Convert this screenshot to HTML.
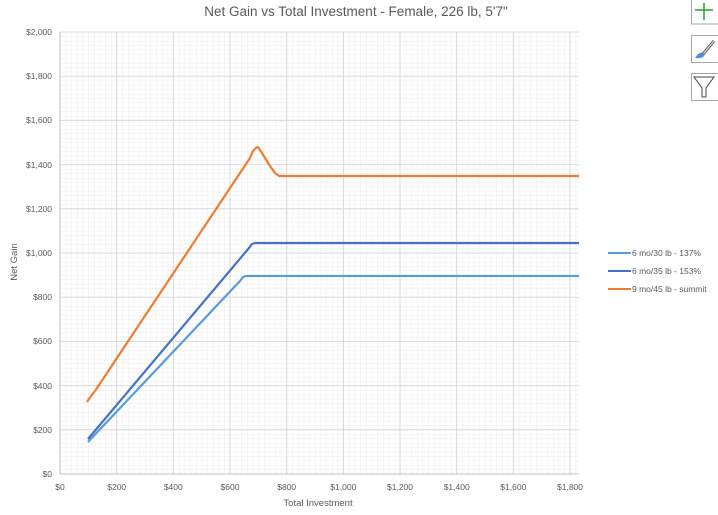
<!DOCTYPE html>
<html><head><meta charset="utf-8"><style>
body{margin:0;background:#fff;}
svg{display:block;font-family:"Liberation Sans",sans-serif;}
</style></head><body>
<svg width="718" height="515" viewBox="0 0 718 515" xmlns="http://www.w3.org/2000/svg">
<defs>
<pattern id="minor" x="60" y="32" width="5.667" height="4.42" patternUnits="userSpaceOnUse">
<path d="M0 0V4.42M0 0H5.667" stroke="#ececec" stroke-width="1" fill="none"/>
</pattern>
</defs>
<rect x="60" y="32" width="519" height="442" fill="url(#minor)"/>
<g stroke="#d9d9d9" stroke-width="1">
<line x1="60" y1="32" x2="579" y2="32"/><line x1="60" y1="76.2" x2="579" y2="76.2"/><line x1="60" y1="120.4" x2="579" y2="120.4"/><line x1="60" y1="164.6" x2="579" y2="164.6"/><line x1="60" y1="208.8" x2="579" y2="208.8"/><line x1="60" y1="253" x2="579" y2="253"/><line x1="60" y1="297.2" x2="579" y2="297.2"/><line x1="60" y1="341.4" x2="579" y2="341.4"/><line x1="60" y1="385.6" x2="579" y2="385.6"/><line x1="60" y1="429.8" x2="579" y2="429.8"/>
<line x1="116.7" y1="32" x2="116.7" y2="474"/><line x1="173.3" y1="32" x2="173.3" y2="474"/><line x1="230" y1="32" x2="230" y2="474"/><line x1="286.7" y1="32" x2="286.7" y2="474"/><line x1="343.3" y1="32" x2="343.3" y2="474"/><line x1="400" y1="32" x2="400" y2="474"/><line x1="456.7" y1="32" x2="456.7" y2="474"/><line x1="513.3" y1="32" x2="513.3" y2="474"/><line x1="570" y1="32" x2="570" y2="474"/>
</g>
<g stroke="#bfbfbf"><line x1="60" y1="32" x2="60" y2="474"/><line x1="60" y1="474" x2="579" y2="474"/></g>
<g font-size="8.5" fill="#595959" text-anchor="end">
<text x="52" y="35">$2,000</text><text x="52" y="79">$1,800</text><text x="52" y="123">$1,600</text><text x="52" y="168">$1,400</text><text x="52" y="212">$1,200</text><text x="52" y="256">$1,000</text><text x="52" y="300">$800</text><text x="52" y="344">$600</text><text x="52" y="389">$400</text><text x="52" y="433">$200</text><text x="52" y="477">$0</text>
</g>
<g font-size="8.5" fill="#595959" text-anchor="middle">
<text x="60" y="490">$0</text><text x="116.7" y="490">$200</text><text x="173.3" y="490">$400</text><text x="230" y="490">$600</text><text x="286.7" y="490">$800</text><text x="343.3" y="490">$1,000</text><text x="400" y="490">$1,200</text><text x="456.7" y="490">$1,400</text><text x="513.3" y="490">$1,600</text><text x="570" y="490">$1,800</text>
</g>
<text x="318" y="506" font-size="9.5" fill="#595959" text-anchor="middle">Total Investment</text>
<text transform="translate(17,262) rotate(-90)" font-size="9.5" fill="#595959" text-anchor="middle">Net Gain</text>
<text x="356" y="16" font-size="13.5" fill="#595959" text-anchor="middle">Net Gain vs Total Investment - Female, 226 lb, 5'7"</text>
<g fill="none" stroke-width="2.2" stroke-linejoin="round">
<polyline stroke="#5b9bd5" points="88,442 240,281 243,277 246,276 579,276"/>
<polyline stroke="#4472c4" points="88,439 249,248 252,244 255,243 579,243"/>
<polyline stroke="#ed7d31" points="87,402 91,396 95,391 250,158 253,151 256,148 258,147 262,153 270,166 275,173 279,176 579,176"/>
</g>
<g font-size="8.5" fill="#595959">
<line x1="608" y1="253" x2="631" y2="253" stroke="#5b9bd5" stroke-width="2"/><text x="632" y="256">6 mo/30 lb - 137%</text>
<line x1="608" y1="271" x2="631" y2="271" stroke="#4472c4" stroke-width="2"/><text x="632" y="274">6 mo/35 lb - 153%</text>
<line x1="608" y1="289" x2="631" y2="289" stroke="#ed7d31" stroke-width="2"/><text x="632" y="292">9 mo/45 lb - summit</text>
</g>
<g fill="#fff" stroke="#a6a6a6" stroke-width="1">
<rect x="691.5" y="-1" width="30" height="25"/>
<rect x="691.5" y="35.5" width="30" height="27"/>
<rect x="691.5" y="73.5" width="30" height="27"/>
</g>
<path d="M704 3V20M695 10H713" stroke="#2ca02c" stroke-width="1.5"/>
<path d="M714 41L703 54" stroke="#555" stroke-width="3"/>
<path d="M714 41L703 54" stroke="#ddd" stroke-width="1.3"/>
<path d="M695 58Q700 50 705 54Q704 59 695 58Z" fill="#4a90d9"/>
<path d="M694 77H714L706 88V97H702V88Z" fill="#fafafa" stroke="#444" stroke-width="1"/>
</svg>
</body></html>
